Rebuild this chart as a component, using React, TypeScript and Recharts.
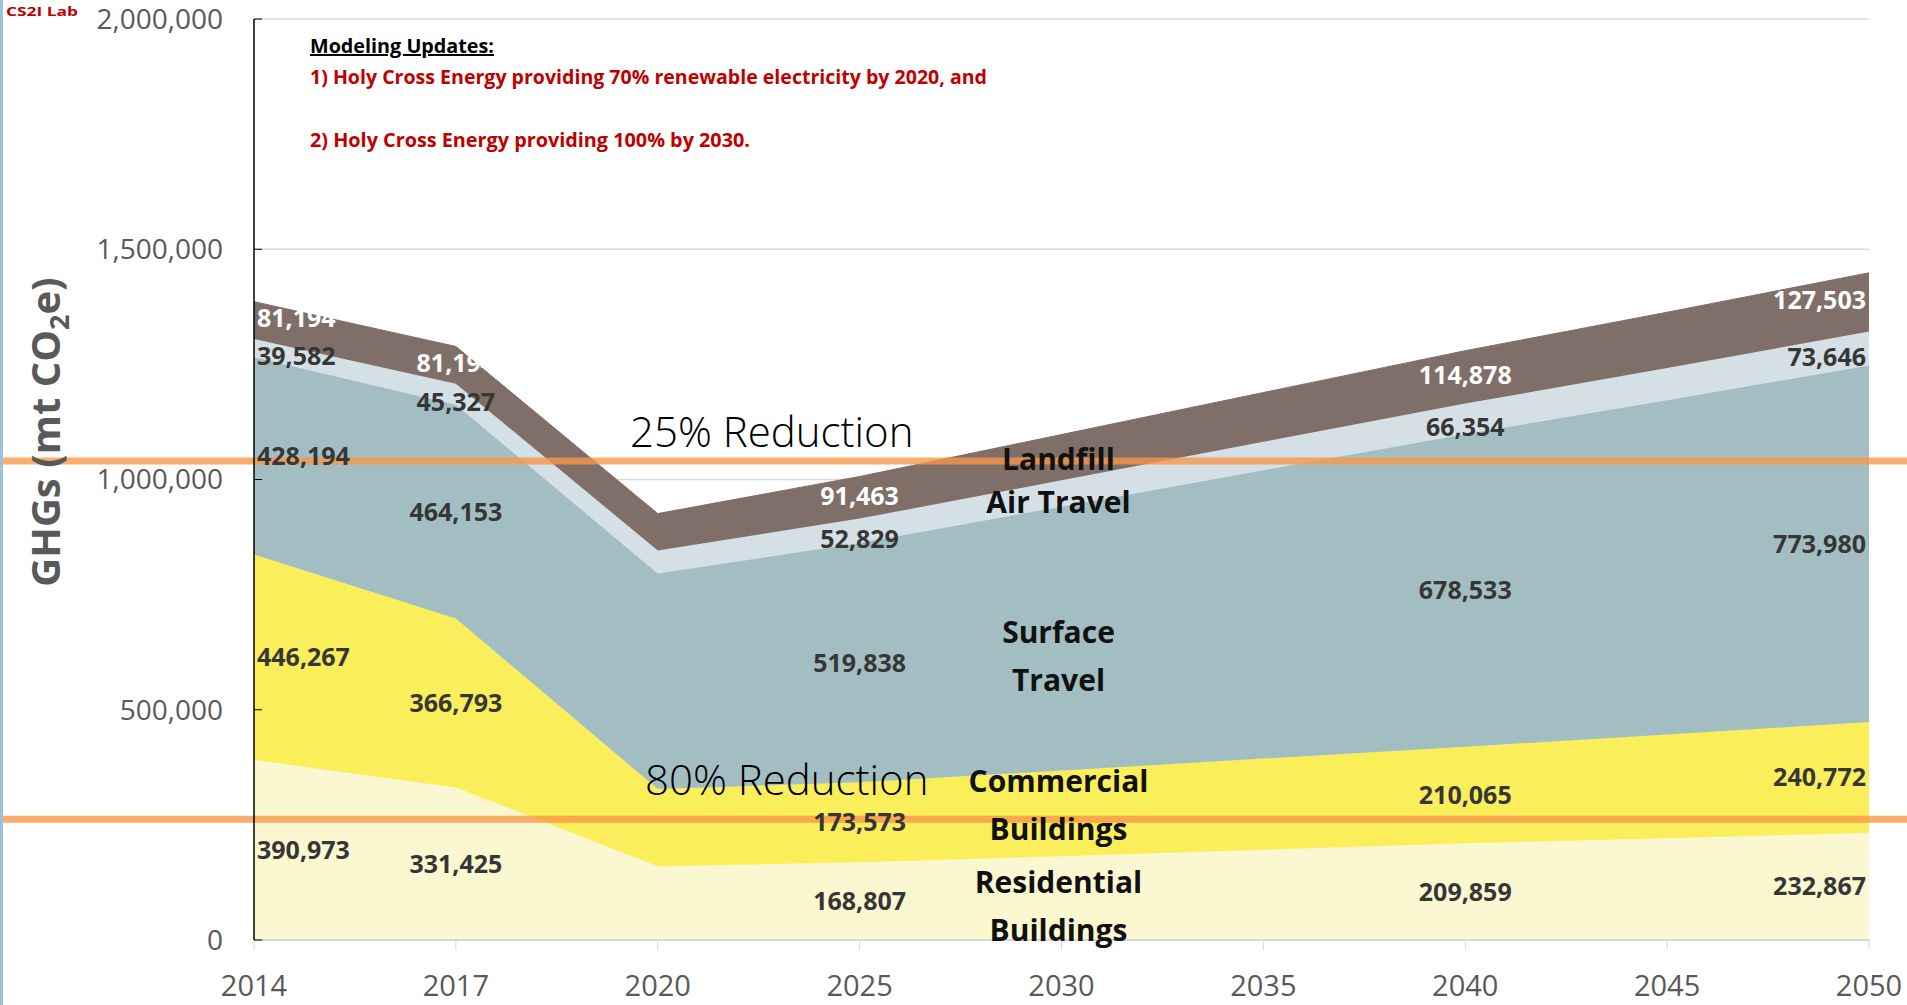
import React from 'react';
import {
  AreaChart,
  Area,
  XAxis,
  YAxis,
  CartesianGrid,
  ReferenceDot,
  ReferenceLine,
} from 'recharts';

// values (mt CO2e)
const years = ['2014', '2017', '2020', '2025', '2030', '2035', '2040', '2045', '2050'];
const residential = [390973, 331425, 160000, 168807, 182000, 196000, 209859, 221000, 232867];
const commercial = [446267, 366793, 168000, 173573, 186000, 198000, 210065, 225000, 240772];
const surfaceTravel = [428194, 464153, 468000, 519838, 573000, 626000, 678533, 726000, 773980];
const airTravel = [39582, 45327, 50000, 52829, 57300, 61900, 66354, 70000, 73646];
const landfill = [81194, 81194, 80000, 91463, 99300, 107000, 114878, 121200, 127503];

const labelledYears = ['2014', '2017', '2025', '2040', '2050'];
const nameLabelYear = '2030';
const yTicks = [0, 500000, 1000000, 1500000, 2000000];
const reductionNames = ['25% Reduction', '80% Reduction'];
const reductionValues = [1040000, 262000];

const seriesKeys = ['residential', 'commercial', 'surface', 'air', 'landfill'];
const seriesTitles = [
  ['Residential', 'Buildings'],
  ['Commercial', 'Buildings'],
  ['Surface', 'Travel'],
  ['Air Travel'],
  ['Landfill'],
];
const seriesValues = [residential, commercial, surfaceTravel, airTravel, landfill];

const notesTitle = 'Modeling Updates:';
const notes = [
  '1) Holy Cross Energy providing 70% renewable electricity by 2020, and',
  '2) Holy Cross Energy providing 100% by 2030.',
];

// styling
const W = 1907;
const H = 1005;
const FONT = "'Open Sans', 'Noto Sans', sans-serif";
const fills = ['#FAF7D1', '#FAEE5B', '#A3BEC2', '#D5E0E6', '#806F68'];
const labelColors = ['#363636', '#363636', '#363636', '#363636', '#FFFFFF'];
const valueDy = [0, 0, 0, 8, -2];
const nameDy = [8, -8, 18, 9, 2];
const reductionTextX = [630, 645];
const reductionTextGap = [14, 24];

const data = years.map((year, i) => {
  const row: Record<string, string | number> = { year };
  seriesKeys.forEach((k, s) => {
    row[k] = seriesValues[s][i];
  });
  return row;
});

const baseOf = (s: number, i: number) =>
  seriesValues.slice(0, s).reduce((acc, arr) => acc + arr[i], 0);

const centerOf = (p: any) => {
  const vb = p.viewBox || p;
  return { cx: vb.x + (vb.width || 0) / 2, cy: vb.y + (vb.height || 0) / 2 };
};

export default function App() {
  const valueDots = seriesValues.flatMap((vals, s) =>
    labelledYears.map((year) => {
      const i = years.indexOf(year);
      const first = i === 0;
      const last = i === years.length - 1;
      const anchor = first ? 'start' : last ? 'end' : 'middle';
      const dx = first ? 3 : last ? -3 : 0;
      return (
        <ReferenceDot
          key={`v-${s}-${year}`}
          x={year}
          y={baseOf(s, i) + vals[i] / 2}
          r={0}
          fill="none"
          stroke="none"
          ifOverflow="visible"
          label={{
            content: (p: any) => {
              const { cx, cy } = centerOf(p);
              return (
                <text
                  x={cx + dx}
                  y={cy + valueDy[s]}
                  dy="0.36em"
                  textAnchor={anchor}
                  fill={labelColors[s]}
                  fontFamily={FONT}
                  fontSize={25}
                  fontWeight={700}
                >
                  {vals[i].toLocaleString('en-US')}
                </text>
              );
            },
          }}
        />
      );
    })
  );

  const ni = years.indexOf(nameLabelYear);
  const nameDots = seriesValues.map((vals, s) => (
    <ReferenceDot
      key={`n-${s}`}
      x={nameLabelYear}
      y={baseOf(s, ni) + vals[ni] / 2}
      r={0}
      fill="none"
      stroke="none"
      ifOverflow="visible"
      label={{
        content: (p: any) => {
          const { cx, cy } = centerOf(p);
          const lines = seriesTitles[s];
          const top = cy + nameDy[s] - ((lines.length - 1) * 48) / 2;
          return (
            <text
              x={cx - 3}
              y={top}
              textAnchor="middle"
              fill="#111111"
              fontFamily={FONT}
              fontSize={30}
              fontWeight={700}
            >
              {lines.map((t, k) => (
                <tspan key={k} x={cx - 3} dy={k === 0 ? '0.36em' : 48}>
                  {t}
                </tspan>
              ))}
            </text>
          );
        },
      }}
    />
  ));

  const reductionLines = reductionValues.map((v, k) => (
    <ReferenceLine
      key={`r-${k}`}
      y={v}
      ifOverflow="visible"
      shape={(p: any) => (
        <g>
          <text
            x={reductionTextX[k]}
            y={p.y1 - reductionTextGap[k]}
            fill="#000000"
            fontFamily={FONT}
            fontSize={42}
            fontWeight={300}
          >
            {reductionNames[k]}
          </text>
          <line
            x1={0}
            x2={W}
            y1={p.y1}
            y2={p.y2}
            stroke="rgba(247,150,70,0.78)"
            strokeWidth={7}
          />
        </g>
      )}
    />
  ));

  return (
    <div
      style={{
        position: 'absolute',
        left: 0,
        top: 0,
        width: W,
        height: H,
        background: '#ffffff',
        overflow: 'hidden',
      }}
    >
      <AreaChart
        width={W}
        height={H}
        data={data}
        margin={{ top: 19, right: 38, left: 0, bottom: 0 }}
      >
        <CartesianGrid vertical={false} stroke="#D9D9D9" strokeWidth={1.5} />
        <XAxis
          dataKey="year"
          height={65}
          interval={0}
          axisLine={{ stroke: '#D9D9D9', strokeWidth: 2 }}
          tickLine={{ stroke: '#D9D9D9' }}
          tickSize={10}
          tickMargin={25}
          tick={{ fill: '#595959', fontSize: 29, fontFamily: FONT }}
        />
        <YAxis
          width={254}
          domain={[0, 2000000]}
          ticks={yTicks}
          interval={0}
          axisLine={{ stroke: '#000000', strokeWidth: 1.5 }}
          tickLine={{ stroke: '#000000' }}
          tickSize={-8}
          tickMargin={39}
          tick={{ fill: '#595959', fontSize: 28, fontFamily: FONT }}
          tickFormatter={(v: number) => v.toLocaleString('en-US')}
        />
        {seriesKeys.map((k, s) => (
          <Area
            key={k}
            dataKey={k}
            stackId="ghg"
            type="linear"
            fill={fills[s]}
            fillOpacity={1}
            stroke={fills[s]}
            strokeWidth={1}
            dot={false}
            activeDot={false}
            isAnimationActive={false}
          />
        ))}
        {valueDots}
        {nameDots}
        {reductionLines}
      </AreaChart>
      <svg
        width={W}
        height={H}
        style={{ position: 'absolute', left: 0, top: 0, pointerEvents: 'none' }}
      >
        <rect x={0} y={0} width={3} height={H} fill="#9CC2DA" />
        <text
          x={6}
          y={16}
          fill="#C00000"
          fontFamily={FONT}
          fontSize={13}
          fontWeight={700}
          textLength={72}
          lengthAdjust="spacingAndGlyphs"
        >
          CS2I Lab
        </text>
        <text
          transform="translate(46,432) rotate(-90)"
          textAnchor="middle"
          dy="0.36em"
          fill="#595959"
          fontFamily={FONT}
          fontSize={40}
          fontWeight={700}
        >
          GHGs (mt CO
          <tspan fontSize={27} dy={9}>
            2
          </tspan>
          <tspan dy={-9}>e)</tspan>
        </text>
        <text
          x={310}
          y={53}
          fill="#000000"
          fontFamily={FONT}
          fontSize={20}
          fontWeight={700}
          textDecoration="underline"
          textLength={184}
          lengthAdjust="spacingAndGlyphs"
        >
          {notesTitle}
        </text>
        <text
          x={310}
          y={84}
          fill="#C00000"
          fontFamily={FONT}
          fontSize={20}
          fontWeight={700}
          textLength={677}
          lengthAdjust="spacingAndGlyphs"
        >
          {notes[0]}
        </text>
        <text
          x={310}
          y={147}
          fill="#C00000"
          fontFamily={FONT}
          fontSize={20}
          fontWeight={700}
          textLength={440}
          lengthAdjust="spacingAndGlyphs"
        >
          {notes[1]}
        </text>
      </svg>
    </div>
  );
}
